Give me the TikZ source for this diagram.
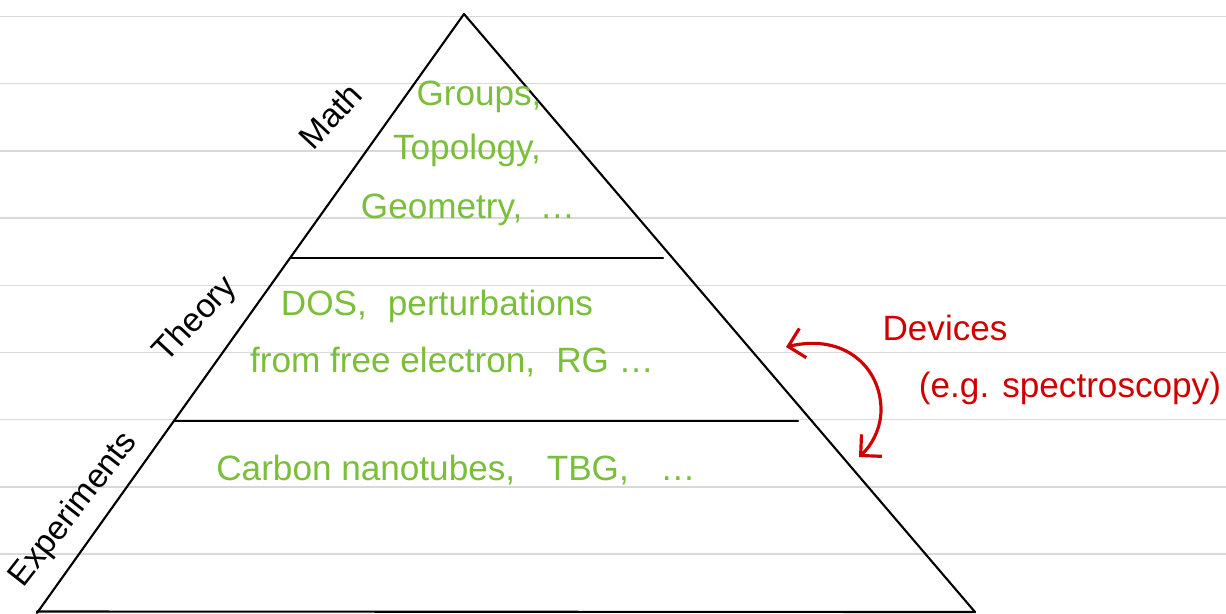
\documentclass[tikz,border=0pt]{standalone}
\usepackage{fontspec}
\setmainfont{Liberation Sans}
\usetikzlibrary{arrows.meta}

\definecolor{notegreen}{RGB}{122,190,58}
\definecolor{notered}{RGB}{208,0,0}
\definecolor{ruleline}{RGB}{217,217,217}

\begin{document}
\begin{tikzpicture}[x=0.02cm,y=-0.02cm]
\tikzset{
  ruling/.style={draw=ruleline,line width=0.8pt},
  pyramidline/.style={draw=black,line width=1.2pt,line join=round,line cap=round},
  layertext/.style={text=notegreen,font=\fontsize{20}{24}\selectfont,inner sep=1pt},
  sidelabel/.style={text=black,font=\fontsize{19}{23}\selectfont,inner sep=1pt},
  devicetext/.style={text=notered,font=\fontsize{20}{24}\selectfont,inner sep=1pt},
  devicearrow/.style={draw=notered,line width=1.8pt,line cap=round,
    {Straight Barb[length=3mm,width=6mm]}-{Straight Barb[length=3mm,width=6mm]}}
}
\useasboundingbox (0,0) rectangle (1226,613);
\fill[white] (0,0) rectangle (1226,613);
% ruled paper
\foreach \k in {0,...,8}
  \draw[ruling] (0,16.5+67.2*\k) -- (1226,16.5+67.2*\k);
% pyramid
\coordinate (n_apex) at (464,14);
\coordinate (n_bl) at (37,613);
\coordinate (n_br) at (975,612);
\coordinate (n_bl2) at (37,611.5);
\coordinate (n_d1l) at (290,258);
\coordinate (n_d1r) at (663,258);
\coordinate (n_d2l) at (175,421);
\coordinate (n_d2r) at (798,421);
\draw[pyramidline] (n_bl) -- (n_apex) -- (n_br);
\draw[pyramidline] (n_bl2) -- (n_br);
\draw[pyramidline] (n_d1l) -- (n_d1r);
\draw[pyramidline] (n_d2l) -- (n_d2r);
% side labels
\node[sidelabel,rotate=47] (n_math) at (330,116) {Math};
\node[sidelabel,rotate=47] (n_theory) at (196,320) {Theory};
\node[sidelabel,rotate=52] (n_exp) at (74,510) {Experiments};
% layer contents
\node[layertext] (n_M0) at (479,97) {Groups,};
\node[layertext] (n_M1) at (467,150) {Topology,};
\node[layertext] (n_M2) at (468,210) {Geometry,\hspace{0.5em}\ldots};
\node[layertext] (n_T0) at (437,306) {DOS,\hspace{0.6em}perturbations};
\node[layertext] (n_T1) at (452,362) {from free electron,\hspace{0.6em}RG \ldots};
\node[layertext] (n_E0) at (456,470) {Carbon nanotubes,\hspace{0.9em}TBG,\hspace{0.9em}\ldots};
% devices
\node[devicetext] (n_dev) at (945,328) {Devices};
\node[devicetext] (n_spec) at (1070,388) {(e.g. spectroscopy)};
\coordinate (n_arrA) at (786,347);
\coordinate (n_arrB) at (859,457);
\draw[devicearrow] (n_arrA) .. controls (845,333) and (881,368) .. (881,410)
  .. controls (881,428) and (872,445) .. (n_arrB);
\end{tikzpicture}
\end{document}
